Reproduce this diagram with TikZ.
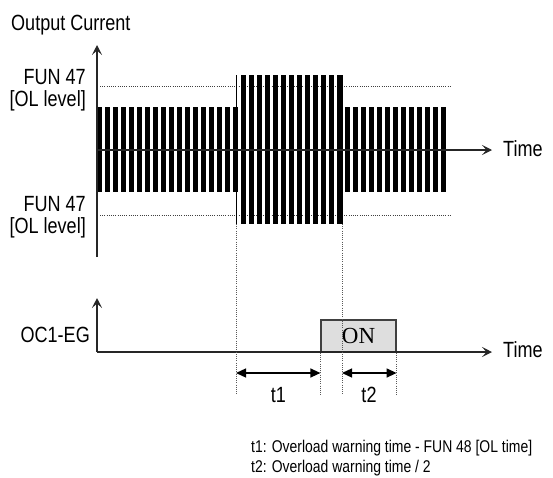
\documentclass[tikz,border=0pt]{standalone}
\usepackage{fontspec}
\setmainfont{Liberation Sans}[FakeStretch=0.82]
\newfontfamily\onfont{Liberation Serif}
\usetikzlibrary{arrows.meta}

\tikzstyle{axisline} = [draw=black!85, line width=1.3pt, -{Stealth[length=10pt,width=10pt,inset=4.5pt]}]
\tikzstyle{olline} = [draw=black!75, line width=0.8pt, dash pattern=on 1pt off 1.2pt]
\tikzstyle{guide} = [draw=black!65, line width=0.8pt, dash pattern=on 1pt off 1.2pt]
\tikzstyle{pulse} = [fill=black]
\tikzstyle{lbl} = [font=\fontsize{22}{24}\selectfont, inner sep=0pt]
\tikzstyle{note} = [font=\fontsize{17}{20}\selectfont, inner sep=0pt, anchor=base west]
\tikzstyle{onbox} = [draw=black!75, fill=black!13, line width=1.2pt, minimum width=75pt, minimum height=32pt, inner sep=0pt, font=\onfont\fontsize{23}{24}\selectfont]
\tikzstyle{dimarrow} = [line width=1.3pt, {Triangle[length=10pt,width=9pt]}-{Triangle[length=10pt,width=9pt]}]

\begin{document}
\begin{tikzpicture}[x=1pt,y=-1pt]
\useasboundingbox (0,0) rectangle (553,477);

% output current
\node[lbl, anchor=base west] (ylabel) at (11,30.5) {Output Current};
\node[lbl, anchor=base east] (olhi) at (86,84) {FUN 47};
\node[lbl, anchor=base east] (olhib) at (86,106.5) {[OL level]};
\node[lbl, anchor=base east] (ollo) at (86,211) {FUN 47};
\node[lbl, anchor=base east] (ollob) at (86,233) {[OL level]};
\node[lbl, anchor=base west] (timehi) at (503,156) {Time};

\coordinate (hibot) at (97,257);
\coordinate (hitop) at (97,45);
\coordinate (hiorg) at (97,150);
\coordinate (hiend) at (492,150);

\draw[olline] (100,86) -- (450,86);
\draw[olline] (100,215) -- (450,215);

\foreach \xa in {97,105,...,233} \fill[pulse] (\xa,107) rectangle ++(4.5,85);
\foreach \xa in {241,249,...,337} \fill[pulse] (\xa,75) rectangle ++(4.5,149);
\foreach \xa in {345,353,...,441} \fill[pulse] (\xa,107) rectangle ++(4.5,85);
\draw[line width=0.6pt] (236,75) -- (236,224);
\draw[line width=0.6pt] (342,75) -- (342,224);

\draw[axisline] (hibot) -- (hitop);
\draw[axisline] (hiorg) -- (hiend);

% OC1-EG output
\node[lbl, anchor=base east] (oclabel) at (90,342) {OC1-EG};
\node[lbl, anchor=base west] (timelo) at (503,357) {Time};
\node[onbox] (on) at (358.5,336) {ON};

\coordinate (loorg) at (97,352);
\coordinate (lotop) at (97,298);
\coordinate (loend) at (492,352);
\draw[axisline] (loorg) -- (lotop);
\draw[axisline] (loorg) -- (loend);

% timing marks
\coordinate (ga) at (236,224);
\coordinate (gb) at (342,224);
\coordinate (ga2) at (236,395);
\coordinate (gb2) at (342,395);
\coordinate (gc2) at (on.south west |- 0,395);
\coordinate (gd2) at (on.south east |- 0,395);
\draw[guide] (ga) -- (ga2);
\draw[guide] (gb) -- (gb2);
\draw[guide] (on.south west) -- (gc2);
\draw[guide] (on.south east) -- (gd2);

\coordinate (t1a) at (236,373);
\coordinate (t1b) at (on.south west |- 0,373);
\coordinate (t2a) at (342,373);
\coordinate (t2b) at (on.south east |- 0,373);
\draw[dimarrow] (t1a) -- (t1b);
\draw[dimarrow] (t2a) -- (t2b);
\node[lbl] (t1) at (278.5,395) {t1};
\node[lbl] (t2) at (369,395) {t2};

\node[note] (note1) at (251,452) {t1: Overload warning time - FUN 48 [OL time]};
\node[note] (note2) at (251,472) {t2: Overload warning time / 2};
\end{tikzpicture}
\end{document}
